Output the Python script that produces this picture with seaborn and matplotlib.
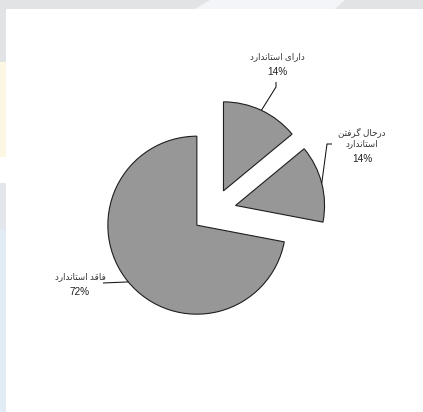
import matplotlib
matplotlib.use("Agg")
import matplotlib.pyplot as plt
from matplotlib.patches import Rectangle, Polygon
import numpy as np
import seaborn as sns

# --- data -------------------------------------------------------------
categories = ["فاقد استاندارد", "درحال گرفتن استاندارد", "دارای استاندارد"]
shares = [72, 14, 14]
pct_labels = ["72%", "14%", "14%"]

# --- minimal Persian shaping (matplotlib has no complex text layout) --
FORMS = {
    "ا": ("\uFE8D", "\uFE8E", None, None),
    "د": ("\uFEA9", "\uFEAA", None, None),
    "ر": ("\uFEAD", "\uFEAE", None, None),
    "ی": ("\uFBFC", "\uFBFD", "\uFBFE", "\uFBFF"),
    "س": ("\uFEB1", "\uFEB2", "\uFEB3", "\uFEB4"),
    "ت": ("\uFE95", "\uFE96", "\uFE97", "\uFE98"),
    "ن": ("\uFEE5", "\uFEE6", "\uFEE7", "\uFEE8"),
    "ح": ("\uFEA1", "\uFEA2", "\uFEA3", "\uFEA4"),
    "ل": ("\uFEDD", "\uFEDE", "\uFEDF", "\uFEE0"),
    "گ": ("\uFB92", "\uFB93", "\uFB94", "\uFB95"),
    "ف": ("\uFED1", "\uFED2", "\uFED3", "\uFED4"),
    "ق": ("\uFED5", "\uFED6", "\uFED7", "\uFED8"),
}


def dual(ch):
    return ch in FORMS and FORMS[ch][2] is not None


def joins(ch):
    return ch in FORMS


def shape(text):
    out = []
    for i, ch in enumerate(text):
        if ch not in FORMS:
            out.append(ch)
            continue
        prev_ch = text[i - 1] if i > 0 else " "
        next_ch = text[i + 1] if i + 1 < len(text) else " "
        j_prev = dual(prev_ch)
        j_next = dual(ch) and joins(next_ch)
        iso, fin, ini, med = FORMS[ch]
        if j_prev and j_next:
            out.append(med)
        elif j_prev:
            out.append(fin)
        elif j_next:
            out.append(ini)
        else:
            out.append(iso)
    return "".join(out)[::-1]


# --- figure -----------------------------------------------------------
sns.set_theme(style="white")
plt.rcParams["font.family"] = ["Liberation Sans", "DejaVu Sans"]

W, H = 423, 412
fig = plt.figure(figsize=(W / 100, H / 100), dpi=100, facecolor="white")

# page frame behind the chart area
fig.patches.append(Rectangle((0, 1 - 9 / H), 1, 9 / H, transform=fig.transFigure,
                             facecolor="#e2e3e5", edgecolor="none", zorder=0))
fig.patches.append(Polygon([(210 / W, 1), (345 / W, 1), (335 / W, 1 - 9 / H), (195 / W, 1 - 9 / H)],
                           closed=True, transform=fig.transFigure,
                           facecolor="#f3f5f8", edgecolor="none", zorder=0))
strip = [(0, 62, "#e2e3e5"), (62, 157, "#fcf7e3"), (157, 183, "#ffffff"),
         (183, 230, "#e3e6ea"), (230, 412, "#e2ecf5")]
for y0, y1, c in strip:
    fig.patches.append(Rectangle((0, 1 - y1 / H), 6 / W, (y1 - y0) / H,
                                 transform=fig.transFigure, facecolor=c,
                                 edgecolor="none", zorder=0))

ax = fig.add_axes([0, 0, 1, 1])
ax.set_facecolor("none")

radius = 89
gray = sns.color_palette(["#979797"])[0]
wedges, _ = ax.pie(shares, center=(214, 201), radius=radius, startangle=90,
                   counterclock=True, explode=[0.25 * radius] * len(shares),
                   colors=[gray] * len(shares),
                   wedgeprops=dict(edgecolor="#1e1e1e", linewidth=0.8))
ax.set_xlim(0, W)
ax.set_ylim(0, H)
ax.set_aspect("equal")
ax.axis("off")


def arc_point(w):
    mid = np.deg2rad((w.theta1 + w.theta2) / 2)
    cx, cy = w.center
    return cx + w.r * np.cos(mid), cy + w.r * np.sin(mid)


num = dict(fontsize=7.2, color="#222222", ha="center", va="center")
fa = dict(fontsize=6.3, color="#333333", ha="center", va="center")
lead = dict(color="#111111", linewidth=0.75, solid_capstyle="butt")

# main slice
w = wedges[0]
px, py = arc_point(w)
ax.plot([px, 103], [py, 129], **lead)
ax.text(80, 135, shape(categories[0]), **fa)
ax.text(80, 120, pct_labels[0], **num)

# slice in progress
w = wedges[1]
px, py = arc_point(w)
ax.plot([px, 327, 332], [py, 268, 268], **lead)
ax.text(362, 280, shape("درحال گرفتن"), **fa)
ax.text(362, 268, shape("استاندارد"), **fa)
ax.text(362, 253, pct_labels[1], **num)

# certified slice
w = wedges[2]
px, py = arc_point(w)
ax.plot([px, 276, 276], [py, 325, 330], **lead)
ax.text(277, 355, shape(categories[2]), **fa)
ax.text(277, 340, pct_labels[2], **num)

fig.savefig("out.png", dpi=100, facecolor="white")
